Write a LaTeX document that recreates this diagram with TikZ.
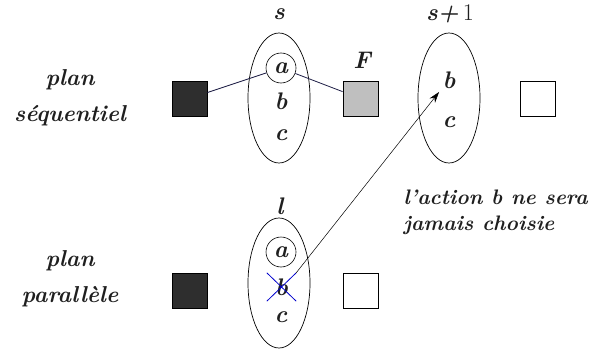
\documentclass[tikz,border=0pt]{standalone}
\usetikzlibrary{shapes.geometric,arrows.meta}

\begin{document}
\begin{tikzpicture}[x=1pt,y=-1pt,
  lbl/.style={font=\fontsize{24}{26}\selectfont\bfseries\itshape,text=black!88},
  ens/.style={draw,ellipse,minimum width=62pt,minimum height=130pt,inner sep=0pt,line width=0.7pt},
  sq/.style={draw,minimum size=35pt,inner sep=0pt,line width=0.8pt},
  act/.style={lbl,draw,circle,minimum size=30pt,inner sep=0pt,line width=0.6pt}]
\useasboundingbox (0,0) rectangle (591,350);
% plan sequentiel
\node[lbl,align=center,font=\fontsize{23}{36}\selectfont\bfseries\itshape] (ps) at (70,98) {plan\\séquentiel};
\node[sq,fill=black!82] (d1) at (189.5,98.5) {};
\node[ens] (es) at (279,98) {};
\node[lbl] (ls) at (279,14) {s};
\node[act] (a1) at (281,68) {a};
\node[lbl] (b1) at (281,101) {b};
\node[lbl] (c1) at (281,135) {c};
\node[sq,fill=black!25] (f1) at (360.5,98.5) {};
\node[lbl] (lf) at (362,60) {F};
\node[ens] (es2) at (449,98) {};
\node[lbl] (ls2) at (450,14) {s+\,\textup{\mdseries 1}};
\node[lbl] (b2) at (449,80) {b};
\node[lbl] (c2) at (449,122) {c};
\node[sq] (e1) at (537.5,98.5) {};
\draw[line width=0.8pt,color={rgb,255:red,30;green,30;blue,70}] (d1) -- (a1) -- (f1);
% plan parallele
\node[lbl,align=center,font=\fontsize{23}{36}\selectfont\bfseries\itshape] (pp) at (70,279) {plan\\parallèle};
\node[sq,fill=black!82] (d2) at (189.5,290.5) {};
\node[ens] (el) at (279,283) {};
\node[lbl] (ll) at (280,206) {l};
\node[act] (a3) at (281,252) {a};
\node[lbl,minimum width=29pt,minimum height=28pt,inner sep=0pt] (xb) at (281.5,287) {b};
\node[lbl] (c3) at (281,317) {c};
\node[sq] (e2) at (360.5,290.5) {};
\draw[blue!80!black,line width=0.8pt] (xb.north west) -- (xb.south east) (xb.south west) -- (xb.north east);
\draw[-{Stealth[length=11pt,width=7pt]},line width=0.5pt] (xb.north east) -- (b2.south west);
\node[lbl,align=left,anchor=west,font=\fontsize{21}{26}\selectfont\bfseries\itshape] (txt) at (400,212) {l’action b ne sera\\jamais choisie};
\end{tikzpicture}
\end{document}
